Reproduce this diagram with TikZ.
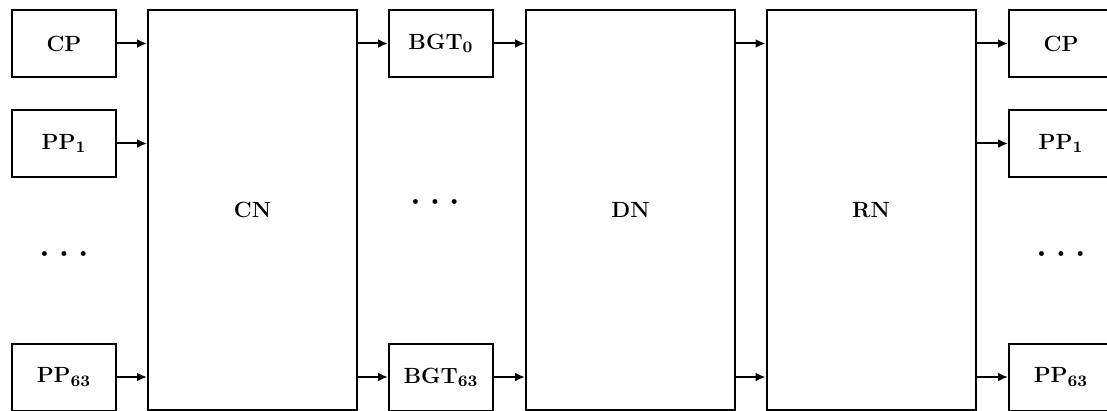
\documentclass[tikz,border=0pt]{standalone}
\usetikzlibrary{arrows.meta}
\newcommand{\dotrow}{$\scriptscriptstyle\bullet$\hspace{6pt}$\scriptscriptstyle\bullet$\hspace{6pt}$\scriptscriptstyle\bullet$}
\tikzset{
  unit/.style={draw, line width=1pt, minimum width=52pt, minimum height=33.5pt, inner sep=0pt, font=\fontsize{11}{13}\selectfont\bfseries},
  net/.style={draw, line width=1pt, minimum width=104.5pt, minimum height=200pt, inner sep=0pt, font=\fontsize{11}{13}\selectfont\bfseries},
  link/.style={line width=1pt, -{Latex[length=5pt,width=4.5pt]}}
}
\begin{document}
\begin{tikzpicture}[x=0.5pt,y=-0.5pt]
\useasboundingbox (0,0) rectangle (1107,411);
\clip (0,0) rectangle (1107,411);
% input processors
\node[unit] (cpin) at (64,43.5) {CP};
\node[unit] (ppain) at (64,143.5) {PP$_{\mathbf{1}}$};
\node (dotsin) at (64,254) {\dotrow};
\node[unit] (ppbin) at (64,377) {PP$_{\mathbf{63}}$};
% networks
\node[net] (cn) at (252.5,210) {CN};
\node[unit] (bgta) at (441,43.5) {BGT$_{\mathbf{0}}$};
\node (dotsmid) at (435,202) {\dotrow};
\node[unit] (bgtb) at (441,377) {BGT$_{\mathbf{63}}$};
\node[net] (dn) at (630.5,210) {DN};
\node[net] (rn) at (871,210) {RN};
% output processors
\node[unit] (cpout) at (1061,43.5) {CP};
\node[unit] (ppaout) at (1061,143.5) {PP$_{\mathbf{1}}$};
\node (dotsout) at (1061,254) {\dotrow};
\node[unit] (ppbout) at (1061,377) {PP$_{\mathbf{63}}$};
% connectors
\draw[link] (cpin) -- (cpin -| cn.west);
\draw[link] (ppain) -- (ppain -| cn.west);
\draw[link] (ppbin) -- (ppbin -| cn.west);
\draw[link] (bgta -| cn.east) -- (bgta);
\draw[link] (bgtb -| cn.east) -- (bgtb);
\draw[link] (bgta) -- (bgta -| dn.west);
\draw[link] (bgtb) -- (bgtb -| dn.west);
\draw[link] (dn.east |- cpin) -- (rn.west |- cpin);
\draw[link] (dn.east |- ppbin) -- (rn.west |- ppbin);
\draw[link] (cpout -| rn.east) -- (cpout);
\draw[link] (ppaout -| rn.east) -- (ppaout);
\draw[link] (ppbout -| rn.east) -- (ppbout);
\end{tikzpicture}
\end{document}
